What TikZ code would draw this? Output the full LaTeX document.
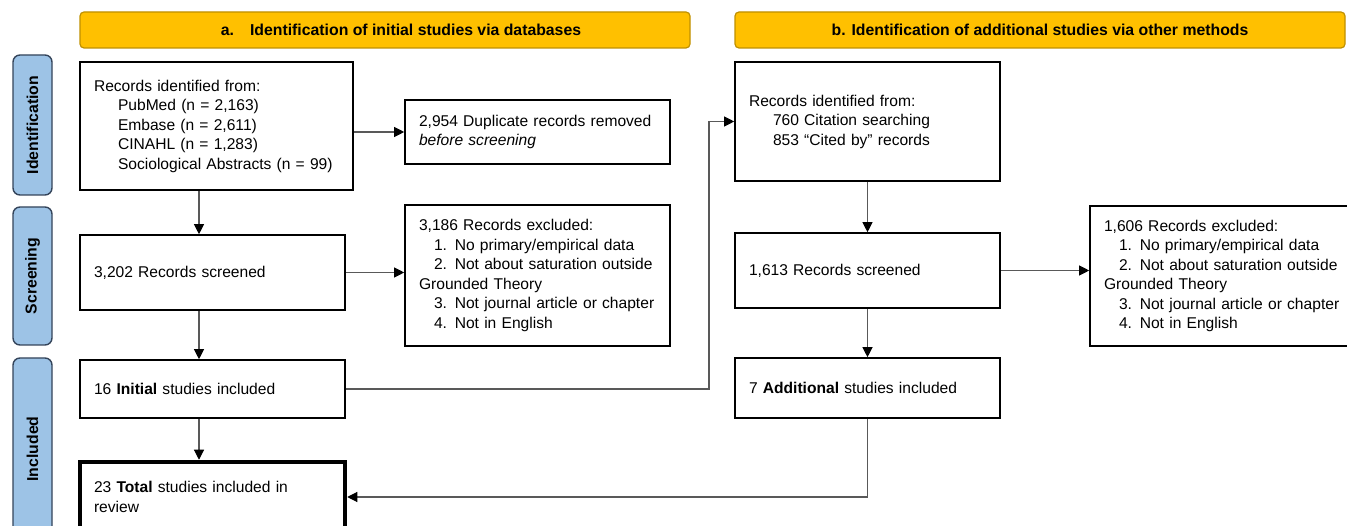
\documentclass[tikz,border=0pt]{standalone}
\usepackage{fontspec}
\setmainfont{Liberation Sans}
\usetikzlibrary{arrows.meta}
\definecolor{bannerfill}{HTML}{FFC000}
\definecolor{bannerline}{HTML}{BF9000}
\definecolor{phasefill}{HTML}{9DC3E6}
\definecolor{phaseline}{HTML}{34445A}
\begin{document}
\begin{tikzpicture}[x=1pt,y=-1pt]
        \tikzstyle{record}=[rectangle,draw=black,line width=1.6pt,align=left,inner xsep=14pt,font=\fontsize{15.6}{19.5}\selectfont]
        \tikzstyle{banner}=[rectangle,rounded corners=4pt,draw=bannerline,line width=1.2pt,fill=bannerfill,minimum height=36pt,font=\fontsize{15.8}{18}\selectfont\bfseries]
        \tikzstyle{phase}=[rectangle,rounded corners=7pt,draw=phaseline,line width=1.4pt,fill=phasefill,minimum width=39pt,font=\fontsize{15.8}{18}\selectfont\bfseries]
        \tikzstyle{edge}=[draw=black!65,line width=1.1pt,-{Triangle[length=10pt,width=10pt,color=black]}]
        \useasboundingbox (0,0) rectangle (1347,526);
        \clip (0,0) rectangle (1347,526);
        % banners
        \node [banner,minimum width=610pt] (banA) at (385,30) {\hspace*{32pt}a.\hspace{16pt}Identification of initial studies via databases};
        \node [banner,minimum width=610pt] (banB) at (1040,30) {b. Identification of additional studies via other methods};
        % phases
        \node [phase,minimum height=140pt] (phId) at (32.5,125) {\rotatebox{90}{Identification}};
        \node [phase,minimum height=138pt] (phScr) at (32.5,276) {\rotatebox{90}{Screening}};
        \node [phase,minimum height=182pt] (phInc) at (32.5,449) {\rotatebox{90}{Included}};
        % databases
        \node [record,minimum width=273pt,minimum height=128pt,text width=245pt] (idA) at (216.5,126) {Records identified from:\\\hspace*{24pt}PubMed (n = 2,163)\\\hspace*{24pt}Embase (n = 2,611)\\\hspace*{24pt}CINAHL (n = 1,283)\\\hspace*{24pt}Sociological Abstracts (n = 99)};
        \node [record,minimum width=265pt,minimum height=64pt,text width=237pt] (dupA) at (537.5,132) {2,954 Duplicate records removed\\\textit{before screening}};
        \node [record,minimum width=265pt,minimum height=75pt,text width=237pt] (scrA) at (212.5,272.5) {3,202 Records screened};
        \node [record,minimum width=265pt,minimum height=141pt,text width=237pt] (excA) at (537.5,275.5) {3,186 Records excluded:\\\hspace*{15pt}1. No primary/empirical data\\\hspace*{15pt}2. Not about saturation outside\\Grounded Theory\\\hspace*{15pt}3. Not journal article or chapter\\\hspace*{15pt}4. Not in English};
        \node [record,minimum width=265pt,minimum height=58pt,text width=237pt] (incA) at (212.5,389) {16 \textbf{Initial} studies included};
        \node [record,line width=4.5pt,minimum width=265pt,minimum height=70pt,text width=237pt] (totA) at (212.5,497) {23 \textbf{Total} studies included in\\review};
        % other methods
        \node [record,minimum width=265pt,minimum height=119pt,text width=237pt] (idB) at (867.5,121.5) {Records identified from:\\\hspace*{24pt}760 Citation searching\\\hspace*{24pt}853 “Cited by” records};
        \node [record,minimum width=265pt,minimum height=75pt,text width=237pt] (scrB) at (867.5,270.5) {1,613 Records screened};
        \node [record,minimum width=270pt,minimum height=140pt,text width=242pt] (excB) at (1225,276) {1,606 Records excluded:\\\hspace*{15pt}1. No primary/empirical data\\\hspace*{15pt}2. Not about saturation outside\\Grounded Theory\\\hspace*{15pt}3. Not journal article or chapter\\\hspace*{15pt}4. Not in English};
        \node [record,minimum width=265pt,minimum height=60pt,text width=237pt] (incB) at (867.5,388) {7 \textbf{Additional} studies included};
        \coordinate (colA) at (199,0);
        \coordinate (jog) at (709,0);
        % connectors
        \path[edge] (idA.south -| colA) -- (scrA.north -| colA);
        \path[edge] (scrA.south -| colA) -- (incA.north -| colA);
        \path[edge] (incA.south -| colA) -- (totA.north -| colA);
        \path[edge] (idA.east |- dupA.west) -- (dupA.west);
        \path[edge] (scrA.east) -- (excA.west |- scrA.east);
        \path[edge] (incA.east) -- (incA.east -| jog) |- (idB.west);
        \path[edge] (idB.south) -- (scrB.north);
        \path[edge] (scrB.south) -- (incB.north);
        \path[edge] (scrB.east) -- (excB.west |- scrB.east);
        \path[edge] (incB.south) |- (totA.east);
\end{tikzpicture}
\end{document}
